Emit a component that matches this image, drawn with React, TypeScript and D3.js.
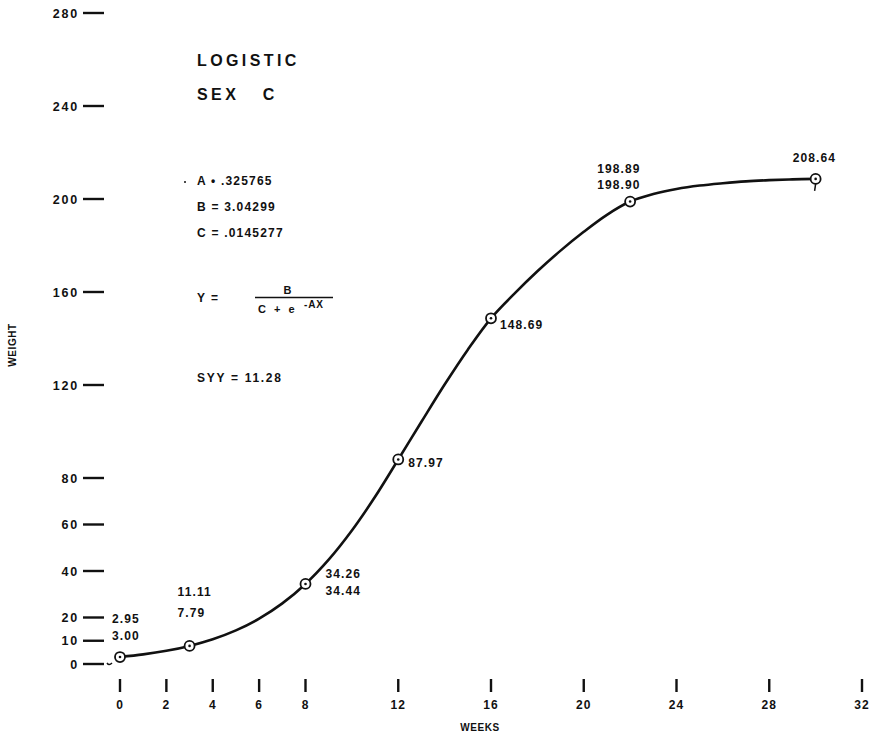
import React from "react";
import * as d3 from "d3";

// ---- data ----
const xTickWeeks = [0, 2, 4, 6, 8, 12, 16, 20, 24, 28, 32];
const yTickWeights = [0, 10, 20, 40, 60, 80, 120, 160, 200, 240, 280];

const curveWeeks = [0, 1, 2, 3, 4, 5, 6, 7, 8, 9, 10, 11, 12, 13, 14, 15, 16, 17, 18, 19, 20, 21, 22, 23, 24, 25, 26, 27, 28, 29, 30];
const curveWeights = [3.0, 4.13, 5.68, 7.79, 10.63, 14.44, 19.49, 26.06, 34.44, 44.87, 57.41, 71.92, 87.97, 104.2, 120.2, 135.2, 148.69, 159.2, 168.9, 177.8, 185.9, 193.2, 198.9, 202.1, 204.3, 205.8, 206.8, 207.6, 208.1, 208.45, 208.64];

const pointWeeks = [0, 3, 8, 12, 16, 22, 30];
const pointWeights = [3.0, 7.79, 34.44, 87.97, 148.69, 198.9, 208.64];
const pointLabelsTop = ["2.95", "11.11", "34.26", "87.97", "148.69", "198.89", "208.64"];
const pointLabelsBottom = ["3.00", "7.79", "34.44", "", "", "198.90", ""];

const titleLines = ["LOGISTIC", "SEX   C"];
const paramLines = ["A \u2022 .325765", "B = 3.04299", "C = .0145277"];
const fitStat = "SYY = 11.28";
const xTitle = "WEEKS";
const yTitle = "WEIGHT";

// ---- layout (label offsets from each point: dx, dy of first line, dy of second line) ----
const labelOffsets: [number, number, number][] = [
  [-8, -38, -21],
  [-12, -54, -33],
  [20, -10, 7],
  [10, 3, 0],
  [9, 6, 0],
  [-33, -33, -17],
  [-23, -21, 0],
];

const W = 877;
const H = 733;
const FONT = "'Liberation Sans', Arial, sans-serif";
const INK = "#111";

export default function App() {
  const x = d3.scaleLinear().domain([0, 32]).range([120, 862]);
  const y = d3.scaleLinear().domain([0, 280]).range([664, 13]);

  const line = d3
    .line<number>()
    .x((_, i) => x(curveWeeks[i]))
    .y((d) => y(d))
    .curve(d3.curveCatmullRom.alpha(0.5));

  const txt = (size: number, ls: number) => ({
    fontFamily: FONT,
    fontWeight: 700 as const,
    fontSize: size,
    letterSpacing: ls,
    fill: INK,
  });

  return (
    <svg
      width={W}
      height={H}
      style={{ position: "absolute", left: 0, top: 0, background: "#fff" }}
    >
      <rect x={0} y={0} width={W} height={H} fill="#fff" />

      {/* Y axis ticks */}
      {yTickWeights.map((v) => (
        <g key={"y" + v}>
          <line x1={83} x2={104} y1={y(v)} y2={y(v)} stroke={INK} strokeWidth={2.4} />
          <text x={79} y={y(v) + 4.5} textAnchor="end" {...txt(12.5, 1.8)}>
            {v}
          </text>
        </g>
      ))}
      <path d={`M107,${y(0) - 1} q2,3 5,0`} fill="none" stroke={INK} strokeWidth={1.5} />

      {/* X axis ticks */}
      {xTickWeeks.map((v) => (
        <g key={"x" + v}>
          <line x1={x(v)} x2={x(v)} y1={679} y2={692} stroke={INK} strokeWidth={2.4} />
          <text x={x(v)} y={708.5} textAnchor="middle" {...txt(12, 1)}>
            {v}
          </text>
        </g>
      ))}

      {/* axis titles */}
      <text x={480} y={731} textAnchor="middle" {...txt(10, 0.6)}>
        {xTitle}
      </text>
      <text
        transform="translate(16,345) rotate(-90)"
        textAnchor="middle"
        {...txt(10, 0.6)}
      >
        {yTitle}
      </text>

      {/* title block */}
      <text x={197} y={66} {...txt(16, 3.4)}>
        {titleLines[0]}
      </text>
      <text x={197} y={100} {...txt(16, 3.4)} style={{ whiteSpace: "pre" }}>
        {titleLines[1]}
      </text>

      <circle cx={185} cy={182} r={1} fill={INK} />
      {paramLines.map((s, i) => (
        <text key={s} x={197} y={184.5 + i * 26} {...txt(12, 1.2)}>
          {s}
        </text>
      ))}

      {/* formula */}
      <text x={197} y={301.5} {...txt(12, 1.5)}>
        {"Y ="}
      </text>
      <text x={287.5} y={294} textAnchor="middle" {...txt(11, 0)}>
        B
      </text>
      <line x1={255} x2={333} y1={297.5} y2={297.5} stroke={INK} strokeWidth={1.6} />
      <text x={258} y={313} {...txt(11, 2.5)}>
        {"C + e"}
      </text>
      <text x={304} y={308} {...txt(10, 0.8)}>
        {"-AX"}
      </text>

      <text x={197} y={381.5} {...txt(12, 1.7)}>
        {fitStat}
      </text>

      {/* fitted curve */}
      <path d={line(curveWeights) || ""} fill="none" stroke={INK} strokeWidth={2.6} />

      {/* observed points */}
      {pointWeeks.map((wk, i) => {
        const px = x(wk);
        const py = y(pointWeights[i]);
        const [dx, dy1, dy2] = labelOffsets[i];
        return (
          <g key={"p" + wk}>
            <circle cx={px} cy={py} r={5} fill="#fff" stroke={INK} strokeWidth={1.8} />
            <circle cx={px} cy={py} r={1.3} fill={INK} />
            <text x={px + dx} y={py + dy1 + 4.3} {...txt(12, 1.1)}>
              {pointLabelsTop[i]}
            </text>
            {pointLabelsBottom[i] && (
              <text x={px + dx} y={py + dy2 + 4.3} {...txt(12, 1.1)}>
                {pointLabelsBottom[i]}
              </text>
            )}
          </g>
        );
      })}
      <line
        x1={x(pointWeeks[6])}
        x2={x(pointWeeks[6]) - 1}
        y1={y(pointWeights[6]) + 5}
        y2={y(pointWeights[6]) + 12}
        stroke={INK}
        strokeWidth={1.5}
      />
    </svg>
  );
}
